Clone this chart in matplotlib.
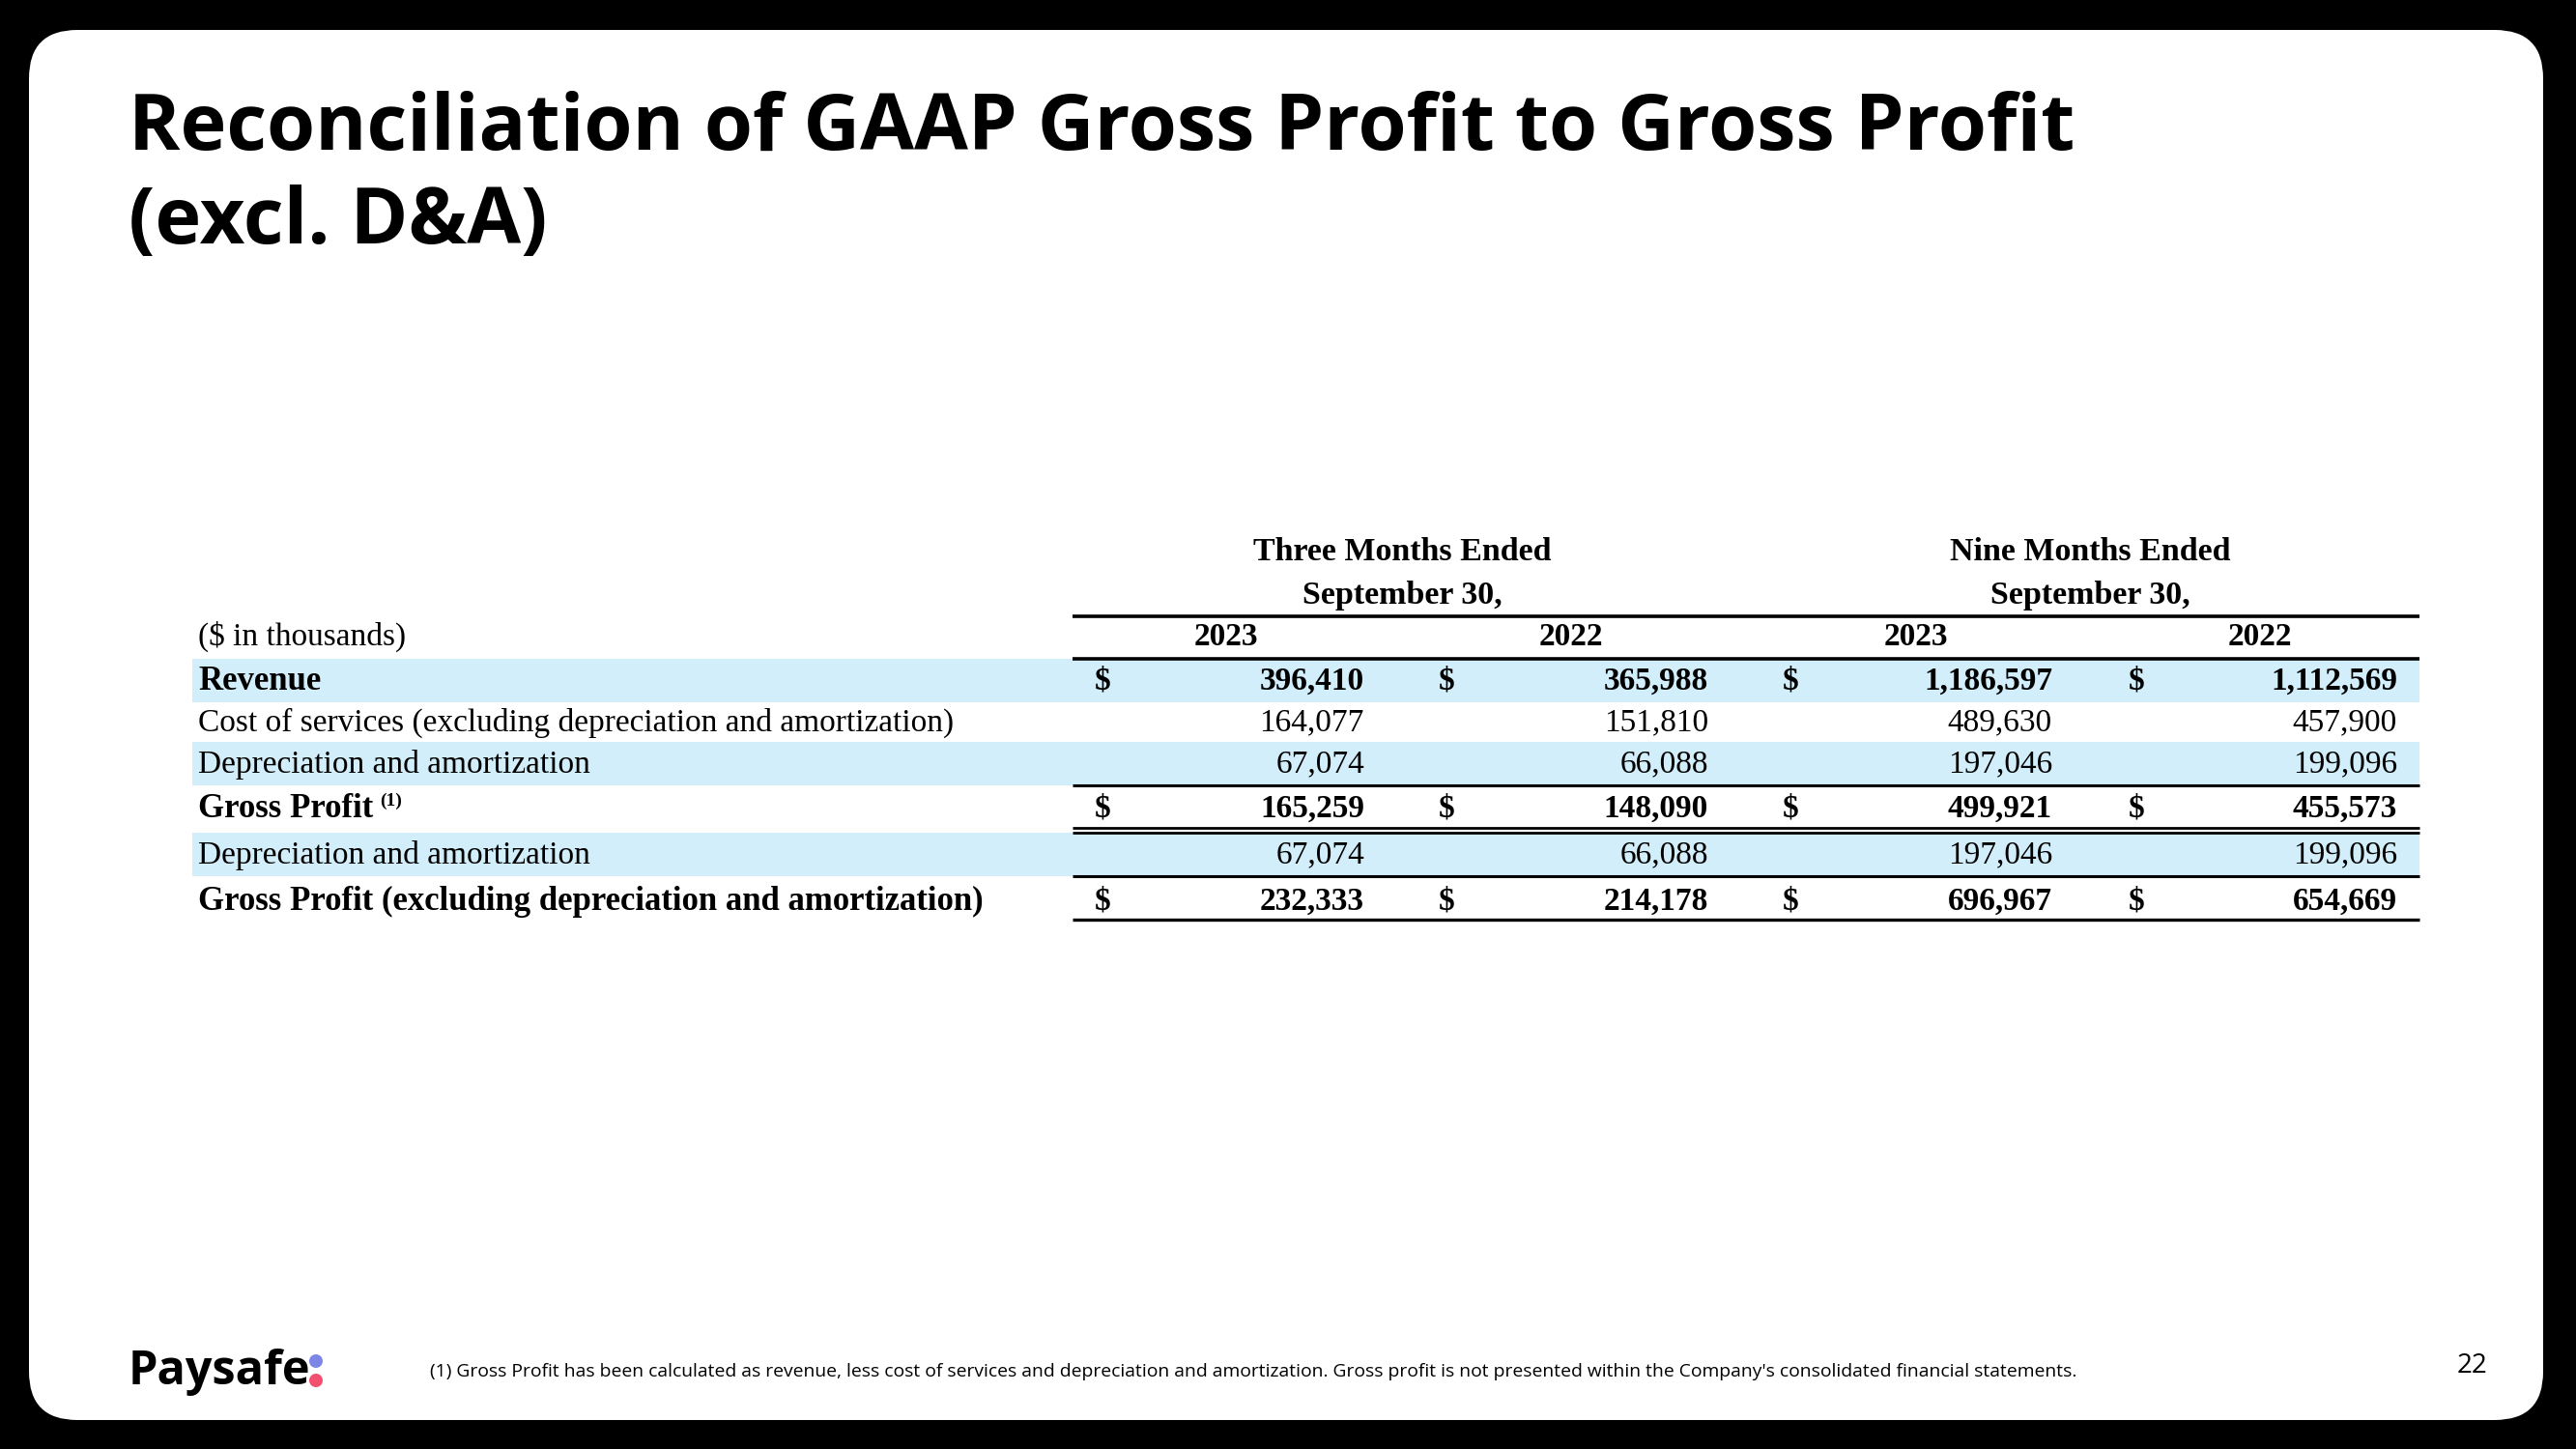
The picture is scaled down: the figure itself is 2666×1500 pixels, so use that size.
import matplotlib
matplotlib.use("Agg")
import matplotlib.pyplot as plt
from matplotlib.patches import FancyBboxPatch, Rectangle, Circle

# ---- data ----
title_lines = ["Reconciliation of GAAP Gross Profit to Gross Profit", "(excl. D&A)"]
period_headers = [("Three Months Ended", "September 30,"), ("Nine Months Ended", "September 30,")]
year_labels = ["2023", "2022", "2023", "2022"]
row_labels = [
    "Revenue",
    "Cost of services (excluding depreciation and amortization)",
    "Depreciation and amortization",
    "Gross Profit",
    "Depreciation and amortization",
    "Gross Profit (excluding depreciation and amortization)",
]
q3_2023 = [396410, 164077, 67074, 165259, 67074, 232333]
q3_2022 = [365988, 151810, 66088, 148090, 66088, 214178]
ytd_2023 = [1186597, 489630, 197046, 499921, 197046, 696967]
ytd_2022 = [1112569, 457900, 199096, 455573, 199096, 654669]
bold_rows = [True, False, False, True, False, True]
dollar_rows = [True, False, False, True, False, True]
shaded_rows = [True, False, True, False, True, False]
footnote = ("(1) Gross Profit has been calculated as revenue, less cost of services and depreciation and "
            "amortization. Gross profit is not presented within the Company's consolidated financial statements.")
page_no = "22"

# ---- layout (pixel coords, y down) ----
W, H = 2666, 1500
BAND = "#d1eefa"
SERIF = "Liberation Serif"
SANS = "Open Sans"

fig = plt.figure(figsize=(W / 100, H / 100), dpi=100, facecolor="black")
ax = fig.add_axes([0, 0, 1, 1])
ax.set_xlim(0, W)
ax.set_ylim(H, 0)
ax.axis("off")
ax.set_facecolor("black")

# white slide card
card = FancyBboxPatch((30 + 50, 31 + 50), 2602 - 100, 1439 - 100,
                      boxstyle="round,pad=50", fc="white", ec="none")
ax.add_patch(card)

# title
for i, line in enumerate(title_lines):
    ax.text(133, 155 + i * 97, line, fontsize=58.3, fontweight="bold", family=SANS,
            ha="left", va="baseline", color="black")

# table geometry
label_x = 205
band_x0, band_x1 = 199, 2504
line_x0 = 1110
dollar_x = [1141, 1497, 1853, 2211]
value_x = [1412, 1768, 2124, 2481]
year_x = [1269, 1626, 1983, 2339]
period_x = [1451, 2163]
row_top = [682, 727, 768, 813, 862, 907]
row_bot = [727, 768, 813, 857, 907, 952]
row_nudge = [1, 1, 1, 2, 1, 4]
fs = 24

# period headers
for px, (l1, l2) in zip(period_x, period_headers):
    ax.text(px, 572, l1, fontsize=24.5, fontweight="bold", family=SERIF, ha="center", va="center")
    ax.text(px, 617, l2, fontsize=24.5, fontweight="bold", family=SERIF, ha="center", va="center")

ax.text(label_x, 659, "($ in thousands)", fontsize=fs, family=SERIF, ha="left", va="center")
for yx, yl in zip(year_x, year_labels):
    ax.text(yx, 659, yl, fontsize=fs, fontweight="bold", family=SERIF, ha="center", va="center")

columns = [q3_2023, q3_2022, ytd_2023, ytd_2022]
for r, label in enumerate(row_labels):
    top, bot = row_top[r], row_bot[r]
    if shaded_rows[r]:
        ax.add_patch(Rectangle((band_x0, top), band_x1 - band_x0, bot - top, fc=BAND, ec="none"))
    yc = (top + bot) / 2 + row_nudge[r]
    weight = "bold" if bold_rows[r] else "normal"
    lfs = 25 if bold_rows[r] else fs
    t = ax.text(label_x, yc, label, fontsize=lfs, fontweight=weight, family=SERIF,
                ha="left", va="center")
    if r == 3:
        ax.annotate("(1)", xy=(1, 1), xycoords=t, xytext=(5, 0), textcoords="offset points",
                    fontsize=14, fontweight="bold", family=SERIF, ha="left", va="top")
    for c, col in enumerate(columns):
        if dollar_rows[r]:
            ax.text(dollar_x[c], yc, "$", fontsize=fs, fontweight="bold", family=SERIF,
                    ha="center", va="center")
        ax.text(value_x[c], yc, f"{col[r]:,}", fontsize=fs, fontweight=weight, family=SERIF,
                ha="right", va="center")

# rules
def rule(y, lw):
    ax.plot([line_x0, band_x1], [y, y], color="black", lw=lw, solid_capstyle="butt")

rule(638, 2.6)
rule(682, 2.6)
rule(813, 2.2)
rule(857, 2.0)
rule(862, 2.0)
rule(907, 2.2)
rule(952, 2.4)

# footer
ax.text(133, 1433, "Paysafe", fontsize=35, fontweight="bold", family=SANS,
        ha="left", va="baseline", color="black")
ax.add_patch(Circle((327, 1409), 7, fc="#7d86e6", ec="none"))
ax.add_patch(Circle((327, 1429), 7, fc="#f2506e", ec="none"))
ax.text(445, 1420, footnote, fontsize=13.9, family=SANS, ha="left", va="center", color="black")
ax.text(2558, 1414, page_no, fontsize=20, family=SANS, ha="center", va="center", color="black")

fig.savefig("out.png", dpi=100, facecolor="black")
